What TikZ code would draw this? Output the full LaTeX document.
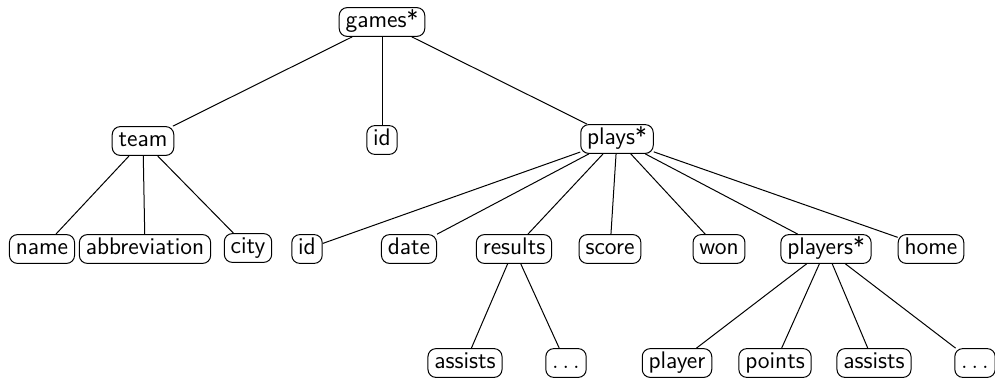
\documentclass[tikz,border=0pt]{standalone}
\renewcommand{\familydefault}{\sfdefault}
\begin{document}
\begin{tikzpicture}[x=0.5pt,y=-0.5pt,
  tnode/.style={draw,rounded corners=4pt,font=\sffamily\large,text height=1.5ex,text depth=.3ex,inner sep=3.2pt,line width=0.5pt},
  edge/.style={line width=0.5pt}]
\useasboundingbox (0,0) rectangle (995,381);
\node[tnode] (games) at (382,22) {games*};
\node[tnode] (team) at (143,141) {team};
\node[tnode] (id1) at (382,140) {id};
\node[tnode] (plays) at (617,139) {plays*};
\node[tnode] (name) at (42,249) {name};
\node[tnode] (abbr) at (145,249) {abbreviation};
\node[tnode] (city) at (248,248) {city};
\node[tnode] (id2) at (307,249) {id};
\node[tnode] (date) at (409,249) {date};
\node[tnode] (results) at (514,249) {results};
\node[tnode] (score) at (610,249) {score};
\node[tnode] (won) at (719,249) {won};
\node[tnode] (players) at (826,249) {players*};
\node[tnode] (home) at (931,249) {home};
\node[tnode] (ass1) at (465,363) {assists};
\node[tnode] (dots1) at (566,363) {$\ldots$};
\node[tnode] (player) at (677,363) {player};
\node[tnode] (points) at (775,363) {points};
\node[tnode] (ass2) at (874,363) {assists};
\node[tnode] (dots2) at (975,363) {$\ldots$};
\foreach \a/\b in {games/team,games/id1,games/plays,team/name,team/abbr,team/city,
  plays/id2,plays/date,plays/results,plays/score,plays/won,plays/players,plays/home,
  results/ass1,results/dots1,players/player,players/points,players/ass2,players/dots2}
  \draw[edge] (\a) -- (\b);
\end{tikzpicture}
\end{document}
